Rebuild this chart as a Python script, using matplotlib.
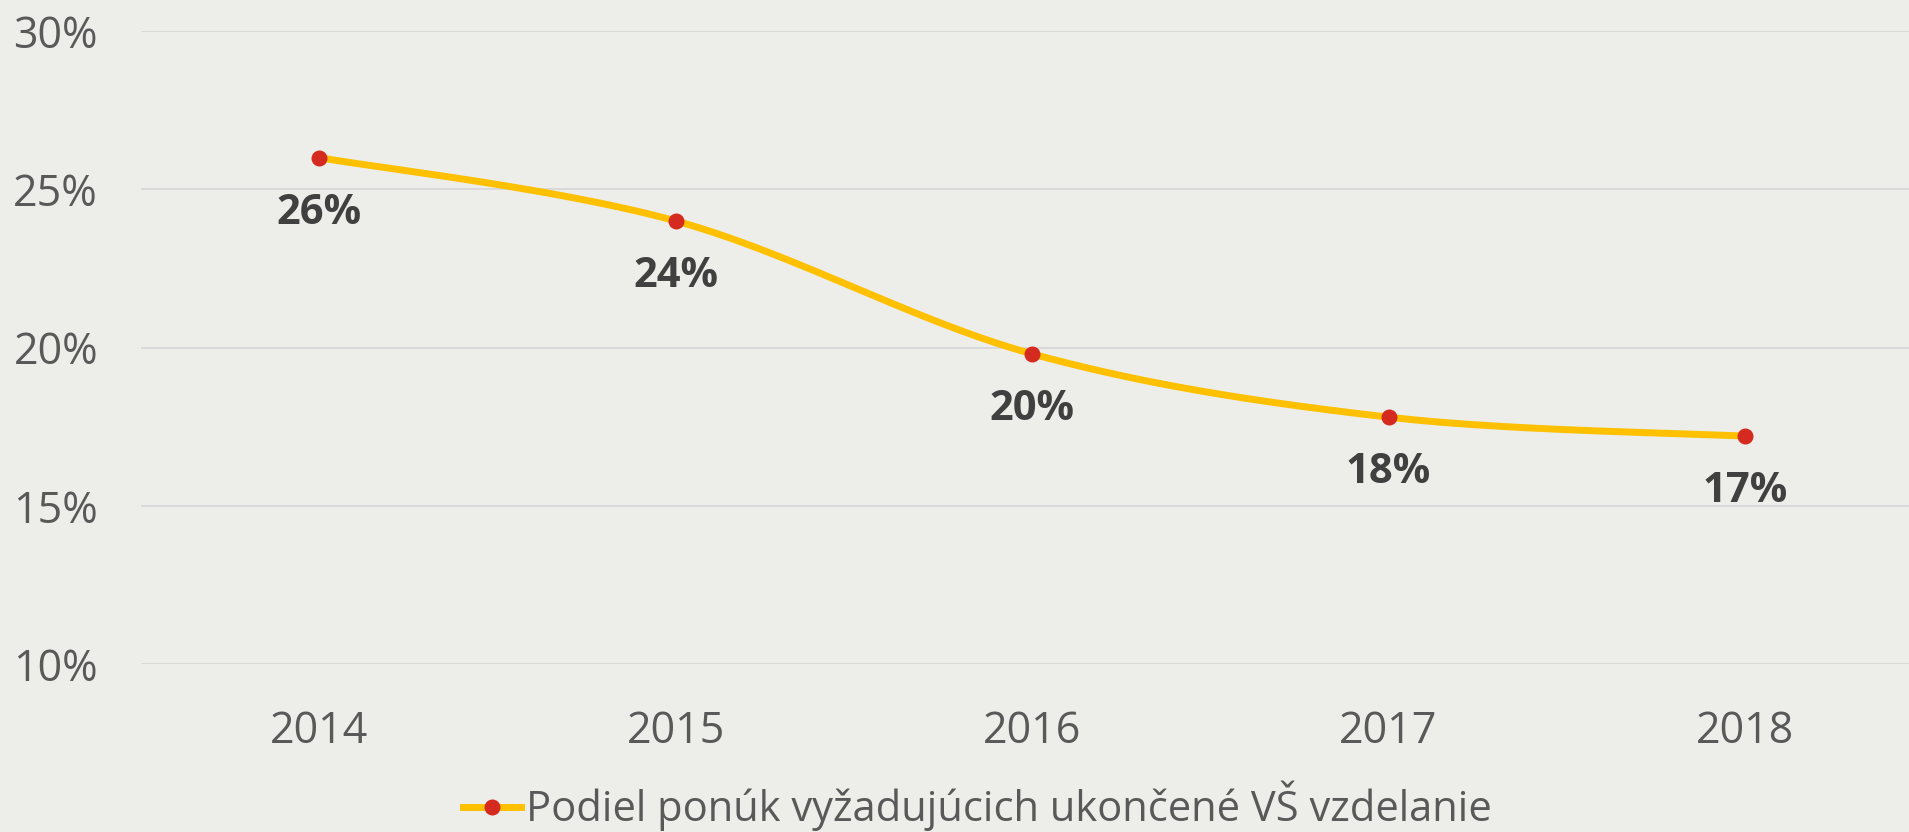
import numpy as np
import matplotlib
matplotlib.use("Agg")
import matplotlib.pyplot as plt
from matplotlib.ticker import FuncFormatter
from matplotlib.lines import Line2D

# data
years = ["2014", "2015", "2016", "2017", "2018"]
share = [0.260, 0.240, 0.198, 0.178, 0.172]
labels = ["26%", "24%", "20%", "18%", "17%"]
series_name = "Podiel ponúk vyžadujúcich ukončené VŠ vzdelanie"

bg = "#EDEDE9"
plt.rcParams['font.family'] = ['Open Sans', 'DejaVu Sans']


def smooth(xs, ys, n=60):
    # catmull-rom style bezier, like excel's smoothed line
    p = np.column_stack([xs, ys]).astype(float)
    p = np.vstack([p[0], p, p[-1]])
    out = []
    t = np.linspace(0, 1, n)[:, None]
    for i in range(1, len(p) - 2):
        b0 = p[i]
        b3 = p[i + 1]
        b1 = b0 + (p[i + 1] - p[i - 1]) / 6
        b2 = b3 - (p[i + 2] - p[i]) / 6
        seg = ((1 - t) ** 3) * b0 + 3 * ((1 - t) ** 2) * t * b1 + 3 * (1 - t) * t ** 2 * b2 + t ** 3 * b3
        out.append(seg)
    out = np.vstack(out)
    return out[:, 0], out[:, 1]


fig = plt.figure(figsize=(19.09, 8.32), dpi=100, facecolor=bg)
ax = fig.add_axes([0.0739, 0.2019, 0.9335, 0.7608])
ax.set_facecolor(bg)

x = np.arange(len(years))
sx, sy = smooth(x, share)
ax.plot(sx, sy, color="#FFC000", lw=5, solid_capstyle='butt', zorder=3)
ax.plot(x, share, 'o', color="#D42A1F", ms=10.5, mec="#D42A1F", zorder=4)

# legend handle
h = Line2D([], [], color="#FFC000", lw=5, marker='o', ms=10.5,
           markerfacecolor="#D42A1F", markeredgecolor="#D42A1F")

for xi, yi, lab in zip(x, share, labels):
    ax.annotate(lab, (xi, yi), xytext=(0, -40), textcoords='offset points',
                ha='center', va='center', fontsize=30, fontweight='bold',
                color="#404040", zorder=5)

ax.set_xlim(-0.5, len(years) - 0.5)
ax.set_ylim(0.10, 0.30)
ax.set_yticks([0.10, 0.15, 0.20, 0.25, 0.30])
ax.yaxis.set_major_formatter(FuncFormatter(lambda v, p: f"{v*100:.0f}%"))
ax.set_xticks(x)
ax.set_xticklabels(years)
ax.tick_params(axis='both', length=0, labelsize=31, labelcolor="#595959")
ax.tick_params(axis='y', pad=31)
ax.tick_params(axis='x', pad=33)
ax.grid(axis='y', color="#D9D9D9", lw=1.4)
ax.set_axisbelow(True)
for s in ax.spines.values():
    s.set_visible(False)

fig.legend([h], [series_name], loc='center', bbox_to_anchor=(0.512, 0.031),
           frameon=False, fontsize=30, handlelength=1.39, handletextpad=0.1,
           labelcolor="#595959")

fig.savefig("out.png", dpi=100, facecolor=bg)
